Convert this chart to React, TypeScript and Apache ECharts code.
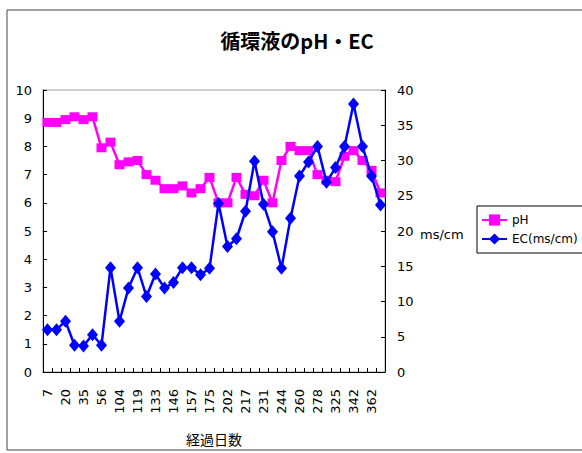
import React, { useEffect, useRef } from "react";
import * as echarts from "echarts";

const days = [
  "7", "14", "20", "28", "35", "42", "56", "98", "104", "112",
  "119", "126", "133", "140", "146", "151", "157", "168", "175", "189",
  "202", "210", "217", "224", "231", "238", "244", "252", "260", "270",
  "278", "300", "325", "335", "342", "352", "362", "370",
];

const phValues = [
  8.85, 8.85, 8.95, 9.05, 8.95, 9.05, 7.95, 8.15, 7.35, 7.45,
  7.5, 7.0, 6.8, 6.5, 6.5, 6.6, 6.35, 6.5, 6.9, 6.0,
  6.0, 6.9, 6.3, 6.25, 6.8, 6.0, 7.5, 8.0, 7.85, 7.85,
  7.0, 6.8, 6.75, 7.65, 7.85, 7.5, 7.15, 6.35,
];

const ecValues = [
  6.0, 6.0, 7.2, 3.8, 3.7, 5.3, 3.8, 14.8, 7.2, 11.9,
  14.8, 10.7, 13.9, 11.9, 12.7, 14.8, 14.8, 13.8, 14.7, 23.9,
  17.8, 18.9, 22.8, 29.9, 23.8, 19.9, 14.7, 21.8, 27.8, 29.8,
  32.0, 26.9, 29.0, 32.0, 38.0, 32.0, 27.8, 23.7,
];

const labelFont = "'DejaVu Sans', sans-serif";
const cjkFont = "'Noto Sans CJK JP', sans-serif";

export default function App() {
  const ref = useRef<HTMLDivElement>(null);

  useEffect(() => {
    if (!ref.current) return;
    const chart = echarts.init(ref.current, null, { renderer: "svg" });
    chart.setOption({
      animation: false,
      backgroundColor: "#ffffff",
      grid: {
        left: 43,
        right: 197,
        top: 90,
        bottom: 81,
        show: true,
        borderColor: "#a0a0a0",
        borderWidth: 1,
      },
      legend: {
        orient: "vertical",
        left: 477,
        top: 206,
        padding: [8, 10, 8, 4],
        itemWidth: 25,
        itemHeight: 14,
        itemGap: 7,
        borderColor: "#000000",
        borderWidth: 1,
        textStyle: { fontFamily: labelFont, fontSize: 12, color: "#000" },
        data: ["pH", "EC(ms/cm)"],
      },
      graphic: [
        {
          type: "rect",
          shape: { x: 7, y: 10, width: 620, height: 440 },
          style: { fill: "none", stroke: "#444", lineWidth: 1 },
          silent: true,
        },
        {
          type: "text",
          x: 297,
          y: 40,
          style: {
            text: "循環液のpH・EC",
            fontFamily: cjkFont,
            fontSize: 20,
            fontWeight: "bold",
            fill: "#000",
            align: "center",
            verticalAlign: "middle",
          },
        },
        {
          type: "text",
          x: 420,
          y: 234,
          style: {
            text: "ms/cm",
            fontFamily: labelFont,
            fontSize: 13,
            fill: "#000",
            align: "left",
            verticalAlign: "middle",
          },
        },
      ],
      xAxis: {
        type: "category",
        data: days,
        boundaryGap: true,
        name: "経過日数",
        nameLocation: "middle",
        nameGap: 60,
        nameTextStyle: { fontFamily: cjkFont, fontSize: 14, color: "#000" },
        axisLine: { show: true, lineStyle: { color: "#000", width: 1 } },
        axisTick: { show: true, inside: true, length: 4, interval: 0, lineStyle: { color: "#000" } },
        axisLabel: {
          interval: 1,
          rotate: 90,
          margin: 17,
          fontFamily: labelFont,
          fontSize: 13,
          color: "#000",
        },
        splitLine: { show: false },
      },
      yAxis: [
        {
          type: "value",
          min: 0,
          max: 10,
          interval: 1,
          position: "left",
          axisLine: { show: true, lineStyle: { color: "#000", width: 1 } },
          axisTick: { show: true, inside: true, length: 4, lineStyle: { color: "#000" } },
          axisLabel: { margin: 11, fontFamily: labelFont, fontSize: 13, color: "#000" },
          splitLine: { show: false },
        },
        {
          type: "value",
          min: 0,
          max: 40,
          interval: 5,
          position: "right",
          axisLine: { show: true, lineStyle: { color: "#000", width: 1 } },
          axisTick: { show: true, inside: true, length: 4, lineStyle: { color: "#000" } },
          axisLabel: { margin: 12, fontFamily: labelFont, fontSize: 13, color: "#000" },
          splitLine: { show: false },
        },
      ],
      series: [
        {
          name: "pH",
          type: "line",
          yAxisIndex: 0,
          data: phValues,
          symbol: "rect",
          symbolSize: [10, 9],
          showAllSymbol: true,
          itemStyle: { color: "#FF00FF" },
          lineStyle: { color: "#FF00FF", width: 2.5 },
          z: 2,
        },
        {
          name: "EC(ms/cm)",
          type: "line",
          yAxisIndex: 1,
          data: ecValues,
          symbol: "diamond",
          symbolSize: [11, 13],
          showAllSymbol: true,
          itemStyle: { color: "#0000FF" },
          lineStyle: { color: "#0000FF", width: 2.5 },
          z: 3,
        },
      ],
    });
    return () => chart.dispose();
  }, []);

  return (
    <div
      ref={ref}
      style={{ position: "fixed", left: 0, top: 0, width: 582, height: 453 }}
    />
  );
}
